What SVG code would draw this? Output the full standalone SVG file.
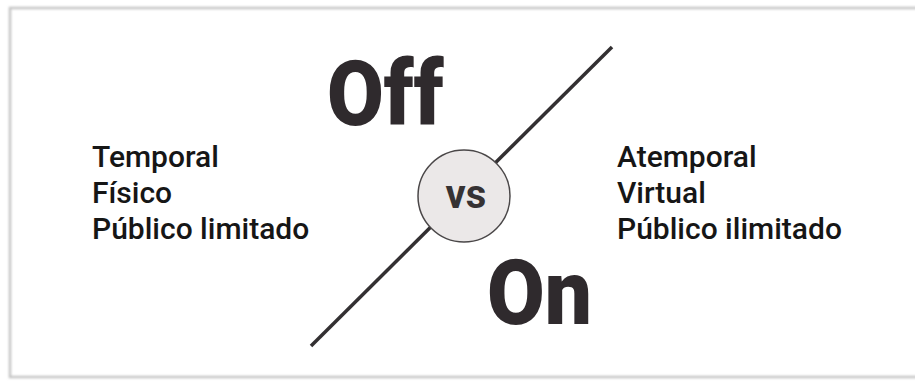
<svg xmlns="http://www.w3.org/2000/svg" width="915" height="385" viewBox="0 0 915 385">
  <defs>
    <filter id="soft" x="-5%" y="-5%" width="110%" height="110%">
      <feGaussianBlur stdDeviation="1.2"/>
    </filter>
  </defs>
  <style>
    .frame { fill: none; stroke: #c4c4c4; stroke-width: 2.5; }
    .big { font-family: Roboto, "Liberation Sans", sans-serif; font-weight: 900; font-size: 90px; fill: #2f2a2d; }
    .item { font-family: Roboto, "Liberation Sans", sans-serif; font-weight: 500; font-size: 30px; fill: #161616; }
    .vs { font-family: Roboto, "Liberation Sans", sans-serif; font-weight: 700; font-size: 40px; fill: #363233; }
    .divider { stroke: #333032; stroke-width: 3.5; fill: none; }
    .badge { fill: #ebe8e8; stroke: #4a4748; stroke-width: 1.5; }
  </style>
  <rect width="915" height="385" fill="#ffffff"/>
  <rect class="frame" x="10" y="8" width="930" height="369" filter="url(#soft)"/>
  <g id="connectors">
    <line class="divider" x1="612" y1="47" x2="311" y2="346"/>
  </g>
  <g id="off">
    <text class="big" transform="translate(327,125) scale(0.915,1)">Off</text>
  </g>
  <g id="on">
    <text class="big" transform="translate(487,324) scale(0.93,1)">On</text>
  </g>
  <g id="vs">
    <circle class="badge" cx="464" cy="196" r="46"/>
    <text class="vs" x="466" y="208" text-anchor="middle">vs</text>
  </g>
  <g id="offline-list">
    <text class="item" x="92" y="167">Temporal</text>
    <text class="item" x="92" y="203">Físico</text>
    <text class="item" x="92" y="239">Público limitado</text>
  </g>
  <g id="online-list">
    <text class="item" x="617" y="167">Atemporal</text>
    <text class="item" x="617" y="203">Virtual</text>
    <text class="item" x="617" y="239">Público ilimitado</text>
  </g>
</svg>
